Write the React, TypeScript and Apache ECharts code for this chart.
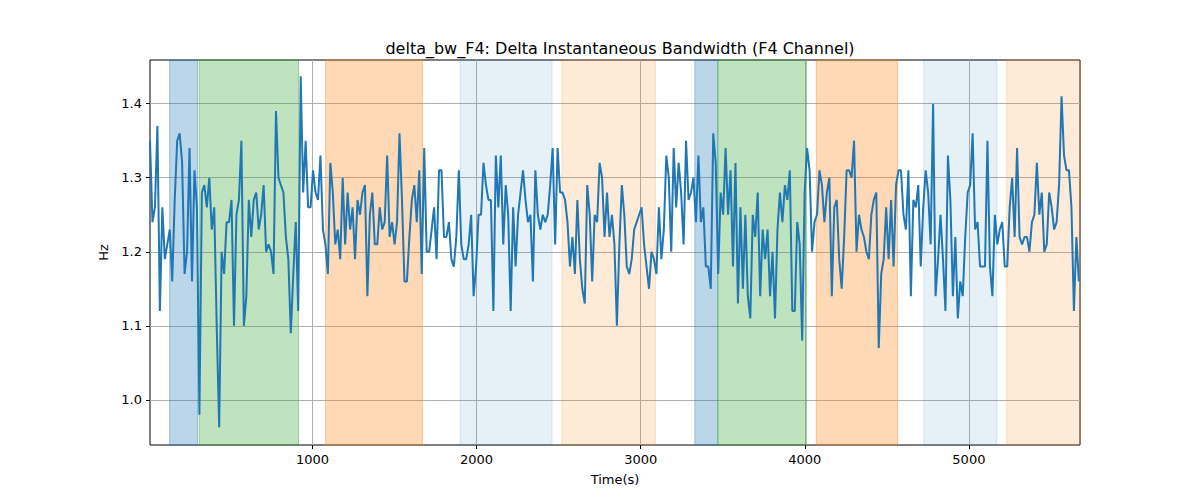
import React, { useEffect, useRef } from 'react';
import * as echarts from 'echarts';

const values = [
  1.35, 1.24, 1.26, 1.37, 1.12, 1.26, 1.19, 1.21, 1.23, 1.16, 1.27, 1.35, 1.36, 1.32, 1.17, 1.20, 1.34, 1.16, 1.31, 1.26,
  0.98, 1.28, 1.29, 1.26, 1.30, 1.23, 1.26, 1.10, 0.963, 1.20, 1.17, 1.24, 1.24, 1.27, 1.10, 1.25, 1.27, 1.35, 1.10, 1.14,
  1.27, 1.22, 1.27, 1.28, 1.23, 1.25, 1.29, 1.20, 1.21, 1.20, 1.17, 1.39, 1.30, 1.29, 1.28, 1.22, 1.19, 1.09, 1.17, 1.24,
  1.12, 1.437, 1.28, 1.35, 1.26, 1.26, 1.31, 1.28, 1.27, 1.33, 1.23, 1.21, 1.17, 1.32, 1.28, 1.21, 1.23, 1.19, 1.30, 1.21,
  1.28, 1.23, 1.26, 1.19, 1.27, 1.25, 1.28, 1.29, 1.14, 1.25, 1.28, 1.21, 1.21, 1.26, 1.23, 1.24, 1.33,
  // 1500 - 2900
  1.22, 1.24, 1.21, 1.24, 1.36, 1.27, 1.16, 1.16, 1.22, 1.27, 1.29, 1.24, 1.31, 1.17, 1.34, 1.20, 1.20, 1.23, 1.26, 1.19,
  1.31, 1.31, 1.22, 1.22, 1.24, 1.19, 1.18, 1.22, 1.31, 1.21, 1.19, 1.19, 1.21, 1.25, 1.14, 1.18, 1.25, 1.25, 1.32, 1.29,
  1.27, 1.27, 1.12, 1.33, 1.26, 1.33, 1.21, 1.29, 1.25, 1.12, 1.26, 1.18, 1.25, 1.28, 1.31, 1.27, 1.24, 1.25, 1.16, 1.31,
  1.25, 1.23, 1.25, 1.24, 1.25, 1.29, 1.34, 1.21, 1.34, 1.28, 1.28, 1.27, 1.24, 1.18, 1.22, 1.17, 1.27, 1.19, 1.15, 1.13,
  1.29, 1.25, 1.16, 1.25, 1.24, 1.32, 1.30, 1.22, 1.28, 1.22, 1.25, 1.21, 1.10, 1.21,
  // 2900 - 4300
  1.29, 1.25, 1.18, 1.17, 1.19, 1.23, 1.24, 1.25, 1.26, 1.21, 1.18, 1.15, 1.20, 1.19, 1.17, 1.26, 1.19, 1.23, 1.33, 1.30,
  1.20, 1.34, 1.26, 1.32, 1.28, 1.21, 1.35, 1.27, 1.28, 1.30, 1.24, 1.33, 1.24, 1.26, 1.18, 1.18, 1.15, 1.36, 1.32, 1.17,
  1.28, 1.25, 1.34, 1.25, 1.31, 1.18, 1.32, 1.13, 1.26, 1.15, 1.25, 1.14, 1.11, 1.25, 1.22, 1.28, 1.14, 1.23, 1.19, 1.23,
  1.14, 1.20, 1.11, 1.23, 1.28, 1.24, 1.29, 1.27, 1.31, 1.12, 1.12, 1.24, 1.21, 1.08, 1.28, 1.34, 1.31, 1.20, 1.24, 1.25,
  1.31, 1.29, 1.24, 1.28, 1.30, 1.14, 1.26, 1.27, 1.19, 1.15, 1.22, 1.31, 1.31,
  // 4300 - 5670
  1.30, 1.35, 1.20, 1.25, 1.23, 1.22, 1.20, 1.19, 1.25, 1.27, 1.28, 1.07, 1.17, 1.19, 1.26, 1.19, 1.27, 1.18, 1.29, 1.31,
  1.31, 1.25, 1.23, 1.31, 1.14, 1.27, 1.26, 1.29, 1.18, 1.26, 1.31, 1.28, 1.21, 1.40, 1.14, 1.19, 1.25, 1.19, 1.12, 1.33,
  1.27, 1.14, 1.22, 1.11, 1.16, 1.14, 1.22, 1.28, 1.29, 1.36, 1.23, 1.24, 1.18, 1.18, 1.18, 1.35, 1.18, 1.14, 1.25, 1.21,
  1.23, 1.24, 1.18, 1.18, 1.26, 1.30, 1.22, 1.34, 1.22, 1.21, 1.22, 1.22, 1.20, 1.24, 1.25, 1.32, 1.25, 1.28, 1.20, 1.21,
  1.28, 1.26, 1.23, 1.24, 1.29, 1.41, 1.33, 1.31, 1.31, 1.26, 1.12, 1.22, 1.16,
];

const tStart = 10;
const tEnd = 5670;

// shaded intervals: [start, end, color, alpha]
const bands: [number, number, string, number][] = [
  [130, 300, '#1f77b4', 0.3],
  [310, 915, '#2ca02c', 0.3],
  [1080, 1670, '#ff7f0e', 0.3],
  [1900, 2460, '#1f77b4', 0.11],
  [2520, 3090, '#ff7f0e', 0.16],
  [3330, 3470, '#1f77b4', 0.3],
  [3470, 4010, '#2ca02c', 0.3],
  [4070, 4565, '#ff7f0e', 0.3],
  [4725, 5170, '#1f77b4', 0.11],
  [5230, 5677, '#ff7f0e', 0.16],
];

const xTicks = [1000, 2000, 3000, 4000, 5000];
const yTicks = [1.0, 1.1, 1.2, 1.3, 1.4];

const hexA = (hex: string, a: number) => {
  const n = parseInt(hex.slice(1), 16);
  return `rgba(${(n >> 16) & 255},${(n >> 8) & 255},${n & 255},${a})`;
};

const App: React.FC = () => {
  const ref = useRef<HTMLDivElement>(null);

  useEffect(() => {
    if (!ref.current) return;
    const chart = echarts.init(ref.current, null, { renderer: 'svg' });
    const step = (tEnd - tStart) / (values.length - 1);
    const data = values.map((v, i) => [tStart + i * step, v]);
    const font = 'DejaVu Sans';
    chart.setOption({
      animation: false,
      title: {
        text: 'delta_bw_F4: Delta Instantaneous Bandwidth (F4 Channel)',
        left: 615, top: 35, textAlign: 'center',
        textStyle: { fontFamily: font, fontSize: 16, fontWeight: 'normal', color: '#000' },
      },
      grid: { left: 150, right: 120, top: 60, bottom: 55, show: true, borderColor: '#000', borderWidth: 1 },
      xAxis: {
        type: 'value', min: 10, max: 5677,
        name: 'Time(s)', nameLocation: 'middle', nameGap: 28,
        nameTextStyle: { fontFamily: font, fontSize: 13, color: '#000' },
        axisLine: { show: false },
        axisTick: { customValues: xTicks, length: 4, lineStyle: { color: '#000' } },
        axisLabel: { customValues: xTicks, fontFamily: font, fontSize: 13, color: '#000', formatter: (v: number) => String(v) },
        splitLine: { show: true, lineStyle: { color: '#b0b0b0', width: 1 } },
      },
      yAxis: {
        type: 'value', min: 0.939, max: 1.459,
        name: 'Hz', nameLocation: 'middle', nameGap: 38,
        nameTextStyle: { fontFamily: font, fontSize: 13, color: '#000' },
        axisLine: { show: false },
        axisTick: { customValues: yTicks, length: 4, lineStyle: { color: '#000' } },
        axisLabel: { customValues: yTicks, fontFamily: font, fontSize: 13, color: '#000', formatter: (v: number) => v.toFixed(1) },
        splitLine: { show: true, lineStyle: { color: '#b0b0b0', width: 1 } },
      },
      series: [
        {
          type: 'line', data, showSymbol: false,
          lineStyle: { color: '#1f77b4', width: 2 }, itemStyle: { color: '#1f77b4' },
          markArea: {
            silent: true,
            data: bands.map(([a, b, c, al]) => [
              { xAxis: a, itemStyle: { color: hexA(c, al), borderColor: hexA(c, al * 1.3), borderWidth: 1 } },
              { xAxis: b },
            ]),
          },
          z: 3,
        },
      ],
    });
    return () => chart.dispose();
  }, []);

  return <div ref={ref} style={{ width: 1200, height: 500, margin: -8 }} />;
};

export default App;
